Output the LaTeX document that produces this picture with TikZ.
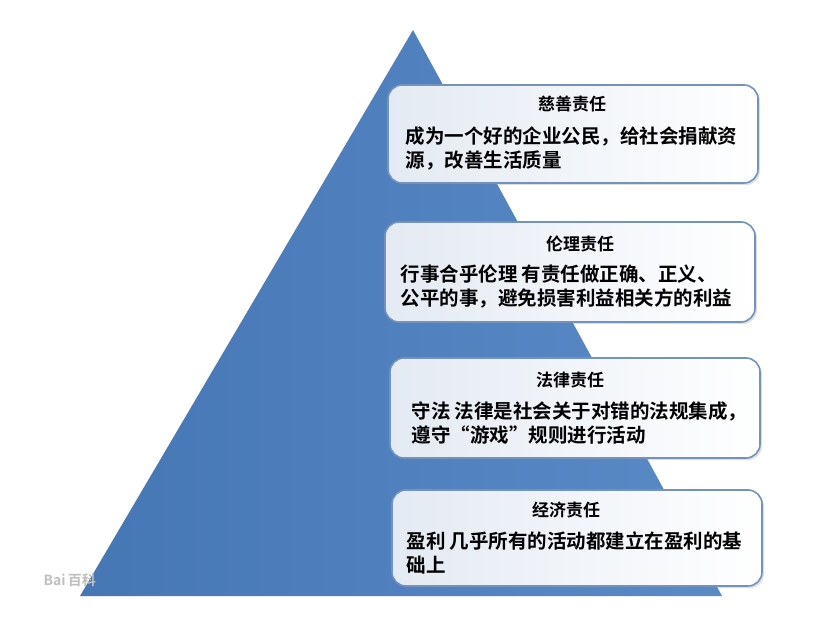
\documentclass[tikz,border=0pt]{standalone}
\usepackage{fontspec}
\newfontfamily\cjk{Noto Sans CJK SC}[BoldFont={Noto Sans CJK SC Bold}]
\usetikzlibrary{shadows}
\definecolor{tri}{HTML}{5A8AC6}
\definecolor{trid}{HTML}{4677B5}
\definecolor{bord}{HTML}{7392BE}
\definecolor{boxl}{HTML}{E4EAF3}
\tikzset{
  lvl/.style={draw=bord,line width=1.6pt,rounded corners=14pt,left color=boxl,right color=white,
    drop shadow={shadow xshift=2pt,shadow yshift=-2pt,opacity=0.25}},
  ttl/.style={font=\cjk\bfseries\fontsize{17}{19}\selectfont,anchor=center},
  bdy/.style={font=\cjk\bfseries\fontsize{19.5}{24}\selectfont,align=left,anchor=west}
}
\begin{document}
\begin{tikzpicture}[x=1pt,y=-1pt]
\useasboundingbox (0,0) rectangle (831,623);
\fill[white] (0,0) rectangle (831,623);
\coordinate (apex) at (413,30);
\coordinate (bl) at (80,596);
\coordinate (br) at (722,596);
\shade[left color=trid,right color=tri] (apex) -- (br) -- (bl) -- cycle;
% boxes
\path[lvl] (388,85) rectangle (758,183);
\path[lvl] (385,222) rectangle (755,322);
\path[lvl] (390,358) rectangle (760,458);
\path[lvl] (392,490) rectangle (762,586);
\node[ttl] (t1) at (572,104) {慈善责任};
\node[bdy] (b1) at (402,148) {成为一个好的企业公民，给社会捐献资\\源，改善生活质量};
\node[ttl] (t2) at (580,244) {伦理责任};
\node[bdy] (b2) at (397,286) {行事合乎伦理 有责任做正确、正义、\\公平的事，避免损害利益相关方的利益};
\node[ttl] (t3) at (570,380) {法律责任};
\node[bdy] (b3) at (408,423) {守法 法律是社会关于对错的法规集成，\\遵守“游戏”规则进行活动};
\node[ttl] (t4) at (566,510) {经济责任};
\node[bdy] (b4) at (403,553) {盈利 几乎所有的活动都建立在盈利的基\\础上};
\node[anchor=west,text=gray!50,font=\cjk\bfseries\fontsize{14}{16}\selectfont] (wm) at (40,580) {Bai\,百科};
\end{tikzpicture}
\end{document}
